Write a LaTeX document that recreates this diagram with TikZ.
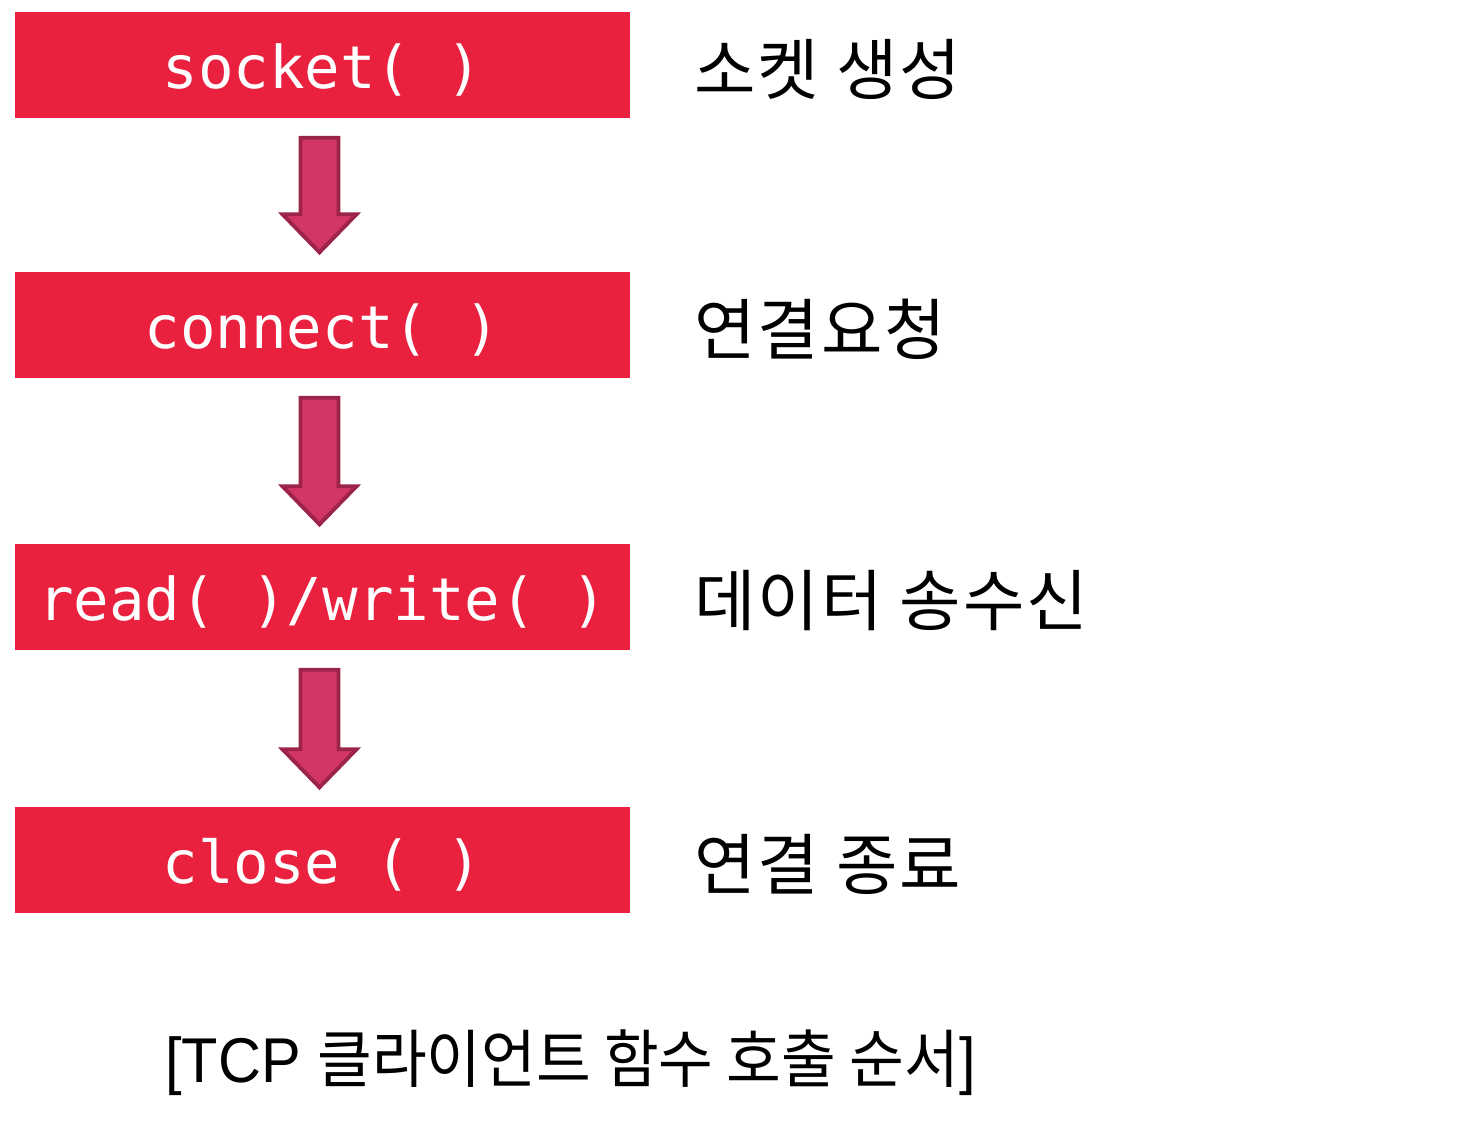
\documentclass[tikz,border=0pt]{standalone}
\usepackage{fontspec}
\setmainfont{Liberation Sans}
\setmonofont{DejaVu Sans Mono}
\newfontfamily\kr{Noto Sans CJK KR}
\newfontfamily\krwide[LetterSpace=3]{Noto Sans CJK KR}
\usetikzlibrary{calc,
		positioning}
\definecolor{boxred}{RGB}{233,32,62}
\definecolor{arrowfill}{RGB}{211,53,101}
\definecolor{arrowline}{RGB}{155,36,72}

\begin{document}
\begin{tikzpicture}[
  func/.style={fill=boxred, text=white, minimum width=6.15cm, minimum height=1.06cm,
    inner sep=0pt, text height=13.4pt, text depth=0pt,
    font=\ttfamily\fontsize{16.8}{20}\selectfont},
  krlabel/.style={anchor=west, inner sep=0pt, yshift=-0.04cm,
    font=\krwide\fontsize{19}{23}\selectfont},
  blockarrow/.style={draw=arrowline, fill=arrowfill, line width=1.1pt,
    to path={let \p1=(\tikztostart), \p2=(\tikztotarget) in
      (\x1-0.19cm,\y1-0.19cm) -- (\x1+0.19cm,\y1-0.19cm) -- (\x1+0.19cm,\y2+0.57cm)
      -- (\x1+0.37cm,\y2+0.57cm) -- (\x1,\y2+0.19cm) -- (\x1-0.37cm,\y2+0.57cm)
      -- (\x1-0.19cm,\y2+0.57cm) -- cycle}}
]
\useasboundingbox (0,0) rectangle (14.63,-11.28);

\node [func] (socket) at (3.225,-0.65) {socket( )};
\node [func] (connect) at (3.225,-3.25) {connect( )};
\node [func] (rw) at (3.225,-5.97) {read( )/write( )};
\node [func] (close) at (3.225,-8.6) {close ( )};

\node [krlabel, right=0.63cm of socket] (create) {소켓 생성};
\node [krlabel, right=0.63cm of connect] (request) {연결요청};
\node [krlabel, right=0.63cm of rw] (transfer) {데이터 송수신};
\node [krlabel, right=0.63cm of close] (finish) {연결 종료};

\draw [blockarrow] ([xshift=-0.03cm]socket.south) to ([xshift=-0.03cm]connect.north);
\draw [blockarrow] ([xshift=-0.03cm]connect.south) to ([xshift=-0.03cm]rw.north);
\draw [blockarrow] ([xshift=-0.03cm]rw.south) to ([xshift=-0.03cm]close.north);

\node [xscale=0.94, font=\fontsize{18}{22}\selectfont] (caption) at (5.705,-10.63)
  {[TCP {\kr 클라이언트 함수 호출 순서}]};

\end{tikzpicture}
\end{document}
